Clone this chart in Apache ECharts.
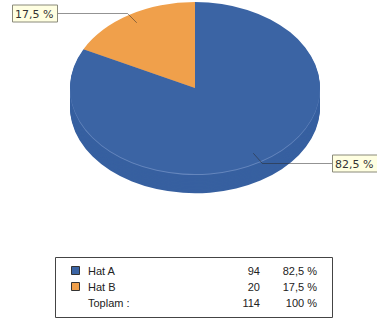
<!DOCTYPE html>
<html>
<head>
<meta charset="utf-8">
<script src="https://cdn.jsdelivr.net/npm/echarts@6/dist/echarts.min.js"></script>
<style>
html,body{margin:0;padding:0;background:#fff;}
#wrap{position:relative;width:377px;height:320px;overflow:hidden;}
/* pie is drawn round, then flattened to get the tilted look */
#pie{position:absolute;left:0;top:2px;width:377px;height:320px;transform:scaleY(0.688);transform-origin:0 0;}
#over{position:absolute;left:0;top:0;width:377px;height:320px;}
</style>
</head>
<body>
<div id="wrap"><div id="pie"></div><div id="over"></div></div>
<script>
const names = ['Hat A', 'Hat B'];
const values = [94, 20];
const colors = ['#3b64a4', '#f0a04b'];
const totalLabel = 'Toplam :';

const total = values.reduce((a, b) => a + b, 0);
const pct = v => (v / total * 100).toFixed(1).replace('.', ',') + ' %';

// pie geometry (unscaled px inside #pie)
const scaleY = 0.688;
const cx = 195, cyIn = 125, r = 125;
const depth = 28;

const pieChart = echarts.init(document.getElementById('pie'), null, {renderer: 'svg'});
const series = [];
const pieData = (cols) => names.map((n, i) => ({name: n, value: values[i], itemStyle: {color: cols[i]}}));
for (let d = depth; d >= 2; d -= 2) {
    series.push({
        type: 'pie', silent: true, animation: false,
        center: [cx, cyIn + d], radius: r, startAngle: 90, clockwise: true,
        label: {show: false}, labelLine: {show: false},
        itemStyle: {borderWidth: 0},
        data: pieData(['#3760a0', '#3760a0'])
    });
}
// light rim under the top face
series.push({
    type: 'pie', silent: true, animation: false,
    center: [cx, cyIn + 1.5], radius: r, startAngle: 90, clockwise: true,
    label: {show: false}, labelLine: {show: false},
    itemStyle: {borderWidth: 0},
    data: pieData(['#6586bd', '#6586bd'])
});
series.push({
    type: 'pie', silent: true, animation: false,
    center: [cx, cyIn], radius: r, startAngle: 90, clockwise: true,
    label: {show: false}, labelLine: {show: false},
    itemStyle: {borderWidth: 0},
    data: pieData(colors)
});
pieChart.setOption({backgroundColor: 'transparent', series: series});

// labels + table on an overlay
const cy = 2 + cyIn * scaleY, rx = r, ry = r * scaleY;
const font = '11px "Liberation Sans", Arial, sans-serif';
const lblFont = '11px "DejaVu Sans", Verdana, sans-serif';
const lineCol = 'rgba(40,40,40,0.5)';
const g = [];
let acc = 0;
values.forEach((v, i) => {
    const mid = (acc + v / 2) / total * Math.PI * 2;
    acc += v;
    const s = Math.sin(mid), c = Math.cos(mid);
    const p1 = [cx + rx * 1.03 * s, cy - ry * 1.03 * c];
    const p2 = [cx + rx * 0.89 * s, cy - ry * 0.89 * c];
    const left = s < 0;
    const bw = 45, bh = 17;
    const bx = left ? 12 : 332;
    const end = left ? bx + bw : bx;
    const ly = Math.round(p1[1]) + 0.5;
    g.push({type: 'polyline', shape: {points: [[end, ly], [p1[0], ly], p2]},
        style: {stroke: lineCol, lineWidth: 1, fill: null}, z: 5});
    g.push({type: 'rect', shape: {x: bx + 0.5, y: Math.round(ly - bh / 2), width: bw, height: bh},
        style: {fill: '#ffffe1', stroke: '#8a8a7a', lineWidth: 1}, z: 6});
    g.push({type: 'text', x: bx + 3, y: ly + 1,
        style: {text: pct(v), font: lblFont, fill: '#333', textVerticalAlign: 'middle'}, z: 7});
});

// legend table
const tx = 55, ty = 257, tw = 277, th = 60;
g.push({type: 'rect', shape: {x: tx + 0.5, y: ty + 0.5, width: tw, height: th},
    style: {fill: '#fff', stroke: '#444', lineWidth: 1}});
const rowY = [271, 287, 303];
names.forEach((n, i) => {
    g.push({type: 'rect', shape: {x: 71.5, y: rowY[i] - 4.5, width: 8, height: 8},
        style: {fill: colors[i], stroke: '#333', lineWidth: 1}});
    g.push({type: 'text', x: 88, y: rowY[i], style: {text: n, font: font, fill: '#222', textVerticalAlign: 'middle'}});
    g.push({type: 'text', x: 260, y: rowY[i], style: {text: String(values[i]), font: font, fill: '#222', textAlign: 'right', textVerticalAlign: 'middle'}});
    g.push({type: 'text', x: 317, y: rowY[i], style: {text: pct(values[i]), font: font, fill: '#222', textAlign: 'right', textVerticalAlign: 'middle'}});
});
const last = rowY[names.length];
g.push({type: 'text', x: 88, y: last, style: {text: totalLabel, font: font, fill: '#222', textVerticalAlign: 'middle'}});
g.push({type: 'text', x: 260, y: last, style: {text: String(total), font: font, fill: '#222', textAlign: 'right', textVerticalAlign: 'middle'}});
g.push({type: 'text', x: 317, y: last, style: {text: '100 %', font: font, fill: '#222', textAlign: 'right', textVerticalAlign: 'middle'}});

const over = echarts.init(document.getElementById('over'), null, {renderer: 'svg'});
over.setOption({backgroundColor: 'transparent', animation: false, graphic: {elements: g}});
</script>
</body>
</html>
